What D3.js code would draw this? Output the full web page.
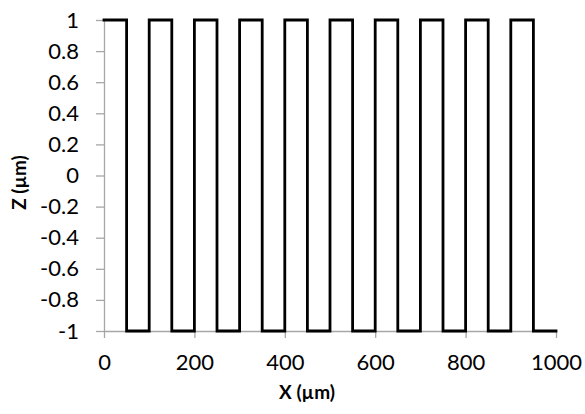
<!DOCTYPE html>
<html>
<head>
<meta charset="utf-8">
<script src="https://cdn.jsdelivr.net/npm/d3@7"></script>
<style>
  body { margin: 0; background: #fff; }
  svg { display: block; }
</style>
</head>
<body>
<script>
const width = 585;
const height = 414;
const marginLeft = 104;
const marginRight = 29;
const marginTop = 20;
const marginBottom = 83;

// step profile, x in µm
const xs = [0, 50, 50, 100, 100, 150, 150, 200, 200, 250, 250, 300, 300, 350, 350, 400, 400, 450, 450, 500,
  500, 550, 550, 600, 600, 650, 650, 700, 700, 750, 750, 800, 800, 850, 850, 900, 900, 950, 950, 1000];
const zs = [1, 1, -1, -1, 1, 1, -1, -1, 1, 1, -1, -1, 1, 1, -1, -1, 1, 1, -1, -1,
  1, 1, -1, -1, 1, 1, -1, -1, 1, 1, -1, -1, 1, 1, -1, -1, 1, 1, -1, -1];

const xTicks = [0, 200, 400, 600, 800, 1000];
const zTicks = [-1, -0.8, -0.6, -0.4, -0.2, 0, 0.2, 0.4, 0.6, 0.8, 1];
const zTickLabels = ["-1", "-0.8", "-0.6", "-0.4", "-0.2", "0", "0.2", "0.4", "0.6", "0.8", "1"];

const svg = d3.select('body')
  .append('svg')
  .attr('width', width)
  .attr('height', height)
  .attr('viewBox', [0, 0, width, height]);

const xScale = d3.scaleLinear([0, 1000], [marginLeft, width - marginRight]);
const yScale = d3.scaleLinear([-1, 1], [height - marginBottom, marginTop]);

const font = 'Lato, "Open Sans", sans-serif';
const axisColor = '#a6a6a6';

const xAxis = d3.axisBottom(xScale)
  .tickValues(xTicks)
  .tickFormat(d3.format('d'))
  .tickSize(7)
  .tickSizeOuter(0)
  .tickPadding(16);

const yAxis = d3.axisLeft(yScale)
  .tickValues(zTicks)
  .tickFormat((d, i) => zTickLabels[i])
  .tickSize(8)
  .tickSizeOuter(0)
  .tickPadding(17);

const gx = svg.append('g')
  .attr('transform', `translate(0,${height - marginBottom})`)
  .call(xAxis);

const gy = svg.append('g')
  .attr('transform', `translate(${marginLeft},0)`)
  .call(yAxis);

[gx, gy].forEach(g => {
  g.selectAll('.domain').attr('stroke', axisColor).attr('stroke-width', 1.3);
  g.selectAll('.tick line').attr('stroke', axisColor).attr('stroke-width', 1.3);
  g.selectAll('.tick text')
    .attr('fill', '#000')
    .style('font-family', font)
    .style('font-size', '22px');
});

const line = d3.line()
  .x(i => xScale(xs[i]))
  .y(i => yScale(zs[i]));

svg.append('path')
  .attr('fill', 'none')
  .attr('stroke', '#000')
  .attr('stroke-width', 2.8)
  .attr('stroke-linejoin', 'miter')
  .attr('stroke-linecap', 'square')
  .attr('d', line(d3.range(xs.length)));

svg.append('text')
  .attr('x', 307)
  .attr('y', 399)
  .attr('text-anchor', 'middle')
  .style('font-family', font)
  .style('font-weight', 'bold')
  .style('font-size', '19px')
  .text('X (µm)');

svg.append('text')
  .attr('transform', `translate(26,${(marginTop + height - marginBottom) / 2 + 7}) rotate(-90)`)
  .attr('text-anchor', 'middle')
  .style('font-family', font)
  .style('font-weight', 'bold')
  .style('font-size', '19px')
  .text('Z (µm)');
</script>
</body>
</html>
